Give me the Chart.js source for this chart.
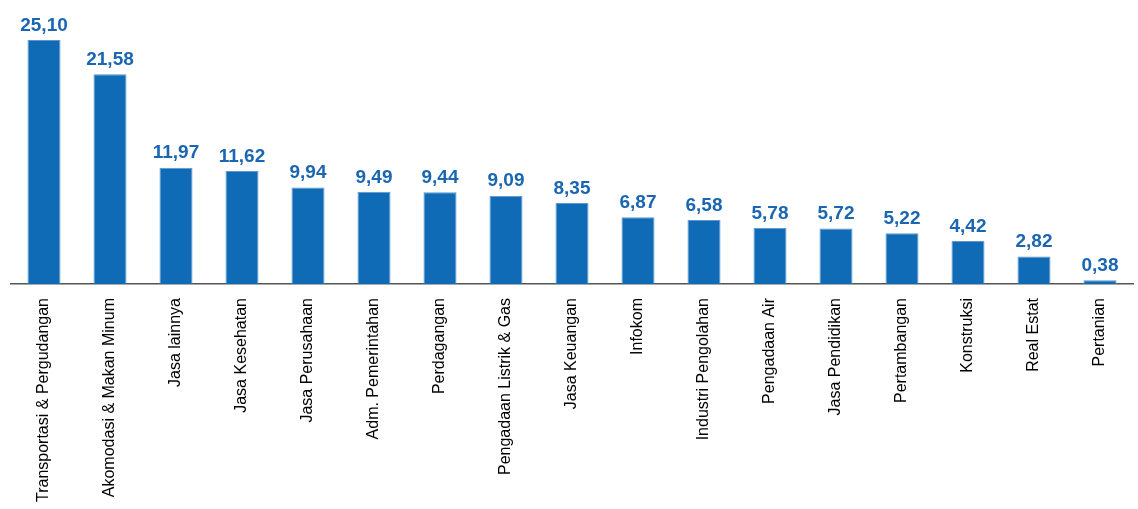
<!DOCTYPE html>
<html>
<head>
<meta charset="utf-8">
<script src="https://cdn.jsdelivr.net/npm/chart.js@4"></script>
<style>
  html, body { margin: 0; padding: 0; background: #fff; }
  #wrap { width: 1138px; height: 509px; position: relative; }
</style>
</head>
<body>
<div id="wrap"><canvas id="myChart"></canvas></div>
<script>
// sektor dan nilai
var sektor = ['Transportasi & Pergudangan', 'Akomodasi & Makan Minum', 'Jasa lainnya', 'Jasa Kesehatan',
  'Jasa Perusahaan', 'Adm. Pemerintahan', 'Perdagangan', 'Pengadaan Listrik & Gas', 'Jasa Keuangan',
  'Infokom', 'Industri Pengolahan', 'Pengadaan Air', 'Jasa Pendidikan', 'Pertambangan', 'Konstruksi',
  'Real Estat', 'Pertanian'];
var nilai = [25.10, 21.58, 11.97, 11.62, 9.94, 9.49, 9.44, 9.09, 8.35, 6.87, 6.58, 5.78, 5.72, 5.22, 4.42, 2.82, 0.38];

var narrow = '"Liberation Sans Narrow", "Arial Narrow", "Liberation Sans", Arial, sans-serif';

// tulis angka di atas batang
var labelAtas = {
  id: 'labelAtas',
  afterDatasetsDraw: function (chart) {
    var ctx = chart.ctx;
    var meta = chart.getDatasetMeta(0);
    ctx.save();
    ctx.font = 'bold 19px ' + narrow;
    ctx.fillStyle = '#1a66b3';
    ctx.textAlign = 'center';
    ctx.textBaseline = 'bottom';
    meta.data.forEach(function (bar, i) {
      ctx.fillText(nilai[i].toFixed(2).replace('.', ','), bar.x, bar.y - 5);
    });
    ctx.restore();
  }
};

const ctx = document.getElementById('myChart').getContext('2d');
const myChart = new Chart(ctx, {
  type: 'bar',
  data: {
    labels: sektor,
    datasets: [{
      data: nilai,
      backgroundColor: '#106bb7',
      borderColor: '#5d95cc',
      borderWidth: 1,
      barPercentage: 0.5,
      categoryPercentage: 1
    }]
  },
  options: {
    responsive: true,
    maintainAspectRatio: false,
    animation: false,
    layout: { padding: { left: 11, right: 5, top: 10, bottom: 1 } },
    plugins: { legend: { display: false }, tooltip: { enabled: false } },
    scales: {
      x: {
        grid: { display: false },
        border: { display: true, color: '#555', width: 1.5 },
        ticks: {
          color: '#000',
          font: { family: narrow, size: 16 },
          minRotation: 90,
          maxRotation: 90,
          autoSkip: false,
          padding: 6
        }
      },
      y: {
        display: false,
        min: 0,
        max: 28.2
      }
    }
  },
  plugins: [labelAtas]
});
</script>
</body>
</html>
